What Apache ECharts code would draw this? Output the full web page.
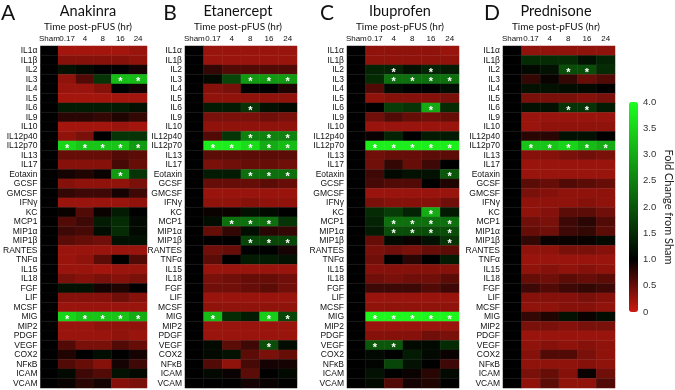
<!DOCTYPE html>
<html>
<head>
<meta charset="utf-8">
<script src="https://cdn.jsdelivr.net/npm/echarts@6/dist/echarts.min.js"></script>
</head>
<body style="margin:0;background:#fff">
<div id="chart" style="width:675px;height:390px"></div>
<script>
// row labels (cytokines) and column labels (time post-pFUS, hr)
const cytokines = ['IL1α', 'IL1β', 'IL2', 'IL3', 'IL4', 'IL5', 'IL6', 'IL9', 'IL10', 'IL12p40', 'IL12p70',
  'IL13', 'IL17', 'Eotaxin', 'GCSF', 'GMCSF', 'IFNγ', 'KC', 'MCP1', 'MIP1α', 'MIP1β', 'RANTES', 'TNFα',
  'IL15', 'IL18', 'FGF', 'LIF', 'MCSF', 'MIG', 'MIP2', 'PDGF', 'VEGF', 'COX2', 'NFκB', 'ICAM', 'VCAM'];
const times = ['Sham', '0.17', '4', '8', '16', '24'];
const drugs = ['Anakinra', 'Etanercept', 'Ibuprofen', 'Prednisone'];
const letters = ['A', 'B', 'C', 'D'];
const shamValue = 1;
const scaleTicks = [0, 0.5, 1.0, 1.5, 2.0, 2.5, 3.0, 3.5, 4.0];

// fold change vs sham, one row per cytokine, columns 0.17 / 4 / 8 / 16 / 24 hr
const anakinra = [
  [0.2, 0.2, 0.2, 0.2, 0.25], [0.35, 0.35, 0.35, 0.35, 0.3], [1.2, 1.1, 1.0, 1.0, 0.9],
  [0.3, 0.6, 1.6, 3.2, 3.2], [0.25, 0.25, 0.35, 1.0, 0.9], [0.2, 0.2, 0.2, 0.2, 0.2],
  [1.3, 1.3, 1.3, 1.3, 1.2], [0.8, 0.8, 0.75, 0.85, 0.75], [0.2, 0.2, 0.2, 0.25, 0.2],
  [0.3, 0.4, 1.0, 1.6, 1.6], [3.5, 3.3, 3.3, 3.3, 2.8], [0.5, 0.5, 0.5, 0.6, 0.55],
  [0.35, 0.35, 0.35, 0.65, 0.5], [0.9, 0.85, 0.95, 2.8, 1.6], [0.35, 0.3, 0.3, 0.3, 0.4],
  [0.75, 0.7, 0.7, 0.9, 0.7], [0.25, 0.25, 0.25, 0.25, 0.3], [0.95, 0.6, 0.95, 1.3, 1.0],
  [0.6, 0.7, 1.3, 1.5, 1.1], [0.7, 0.65, 1.15, 1.5, 1.1], [0.55, 0.5, 0.45, 1.2, 1.2],
  [0.25, 0.25, 0.25, 0.25, 0.25], [0.25, 0.3, 0.55, 1.0, 0.6], [0.25, 0.25, 0.2, 0.25, 0.25],
  [0.4, 0.35, 0.4, 0.35, 0.4], [1.2, 1.2, 0.9, 0.85, 1.0], [0.35, 0.35, 0.35, 0.45, 0.35],
  [0.25, 0.25, 0.25, 0.25, 0.25], [3.5, 3.3, 3.3, 3.3, 3.0], [0.25, 0.25, 0.3, 0.3, 0.3],
  [0.25, 0.25, 0.25, 0.3, 0.25], [0.6, 0.4, 0.4, 0.6, 0.5], [0.85, 1.0, 1.15, 1.0, 0.9],
  [0.6, 0.5, 0.35, 0.9, 0.7], [1.1, 0.7, 0.6, 1.2, 1.1], [0.95, 0.8, 0.9, 0.35, 0.4]
];
const etanercept = [
  [0.25, 0.25, 0.25, 0.25, 0.25], [0.25, 0.25, 0.25, 0.25, 0.25], [0.75, 0.6, 0.6, 0.6, 0.6],
  [1.1, 1.8, 2.8, 2.8, 2.8], [0.35, 0.4, 1.0, 1.0, 0.85], [0.3, 0.3, 0.3, 0.3, 0.3],
  [1.3, 1.3, 1.6, 1.2, 1.1], [0.4, 0.4, 0.4, 0.45, 0.4], [0.3, 0.3, 0.3, 0.3, 0.3],
  [0.6, 1.6, 2.5, 2.5, 2.5], [3.8, 3.8, 3.6, 3.0, 3.2], [0.55, 0.55, 0.55, 0.55, 0.55],
  [0.4, 0.45, 0.5, 0.5, 0.45], [1.3, 1.3, 2.3, 2.3, 2.3], [0.5, 0.5, 0.5, 0.55, 0.5],
  [0.25, 0.25, 0.25, 0.25, 0.25], [0.3, 0.3, 0.35, 0.3, 0.3], [0.95, 0.95, 1.2, 1.1, 1.0],
  [1.15, 2.3, 2.3, 2.3, 1.6], [0.5, 0.75, 1.15, 0.8, 0.75], [1.0, 1.0, 1.8, 1.8, 1.8],
  [0.45, 0.5, 1.0, 1.0, 0.9], [0.55, 1.0, 1.3, 1.3, 1.2], [0.25, 0.25, 0.25, 0.25, 0.25],
  [0.4, 0.45, 0.5, 0.5, 0.45], [0.45, 0.45, 0.5, 0.55, 0.45], [0.25, 0.25, 0.25, 0.25, 0.25],
  [0.3, 0.3, 0.3, 0.3, 0.3], [3.2, 1.5, 1.3, 3.4, 1.8], [0.25, 0.25, 0.25, 0.25, 0.25],
  [0.25, 0.25, 0.25, 0.25, 0.25], [1.1, 0.55, 0.7, 1.9, 1.15], [1.1, 1.2, 0.55, 0.4, 0.5],
  [0.6, 0.3, 0.65, 0.9, 0.9], [1.1, 0.95, 0.55, 1.0, 1.1], [1.0, 1.0, 0.9, 0.95, 1.0]
];
const ibuprofen = [
  [0.3, 0.3, 0.3, 0.3, 0.25], [0.3, 0.3, 0.3, 0.3, 0.3], [1.4, 1.4, 1.2, 1.4, 1.3],
  [1.5, 2.3, 2.3, 2.3, 2.3], [0.6, 1.1, 1.0, 1.0, 1.15], [0.3, 0.35, 0.35, 0.35, 0.4],
  [1.0, 1.7, 1.6, 3.0, 1.5], [0.45, 0.6, 0.5, 0.45, 0.5], [0.25, 0.25, 0.25, 0.25, 0.25],
  [0.95, 1.4, 1.0, 1.3, 1.3], [3.8, 3.8, 3.8, 3.8, 3.8], [0.45, 0.5, 0.5, 0.55, 0.55],
  [0.45, 0.75, 0.5, 0.7, 1.0], [0.7, 1.1, 1.2, 1.2, 2.0], [0.65, 0.6, 0.6, 1.0, 0.85],
  [0.25, 0.25, 0.25, 0.25, 0.25], [0.4, 0.35, 0.35, 0.35, 0.45], [1.5, 1.7, 1.4, 3.0, 1.3],
  [1.4, 2.3, 2.3, 2.3, 2.3], [1.3, 1.9, 1.9, 1.9, 1.9], [0.5, 1.1, 0.95, 1.2, 1.6],
  [0.4, 0.45, 0.4, 0.5, 0.55], [0.45, 1.0, 0.8, 1.0, 1.3], [0.35, 0.35, 0.35, 0.35, 0.35],
  [0.45, 0.4, 0.45, 0.45, 0.55], [0.7, 0.7, 0.7, 0.6, 0.7], [0.25, 0.25, 0.25, 0.25, 0.25],
  [0.3, 0.3, 0.3, 0.3, 0.3], [3.9, 3.9, 3.9, 3.9, 3.9], [0.25, 0.25, 0.25, 0.25, 0.25],
  [0.35, 0.35, 0.35, 0.45, 0.4], [2.0, 2.0, 1.1, 1.1, 1.5], [1.1, 1.0, 1.3, 1.1, 0.95],
  [1.05, 1.8, 1.2, 1.0, 0.7], [1.2, 1.0, 0.95, 0.8, 1.1], [1.1, 0.6, 0.9, 0.85, 1.0]
];
const prednisone = [
  [0.3, 0.3, 0.3, 0.3, 0.3], [1.5, 1.5, 1.5, 1.2, 1.4], [1.1, 1.2, 1.9, 1.9, 1.5],
  [0.75, 0.95, 0.75, 0.5, 0.6], [1.2, 1.2, 1.15, 1.1, 1.0], [0.4, 0.4, 0.4, 0.35, 0.4],
  [1.2, 1.2, 1.6, 1.6, 1.3], [0.25, 0.25, 0.25, 0.25, 0.25], [0.25, 0.3, 0.3, 0.3, 0.3],
  [0.8, 0.8, 1.2, 1.2, 1.0], [3.3, 3.3, 3.5, 3.2, 3.0], [0.35, 0.35, 0.4, 0.45, 0.4],
  [0.25, 0.25, 0.25, 0.25, 0.25], [0.25, 0.25, 0.25, 0.25, 0.25], [0.55, 0.5, 0.6, 0.55, 0.5],
  [0.4, 0.35, 0.3, 0.3, 0.3], [0.3, 0.3, 0.3, 0.35, 0.3], [0.3, 0.35, 0.55, 0.55, 0.45],
  [0.45, 0.4, 0.7, 0.8, 0.6], [0.5, 0.45, 0.7, 0.75, 0.55], [0.75, 0.95, 0.95, 0.95, 1.1],
  [0.3, 0.3, 0.4, 0.4, 0.35], [0.25, 0.25, 0.25, 0.25, 0.25], [0.3, 0.35, 0.3, 0.35, 0.3],
  [0.5, 0.45, 0.55, 0.5, 0.55], [0.7, 0.6, 0.7, 0.75, 0.7], [0.35, 0.35, 0.35, 0.4, 0.35],
  [0.3, 0.3, 0.35, 0.35, 0.3], [0.75, 0.85, 1.2, 0.95, 1.15], [0.4, 0.4, 0.35, 0.4, 0.4],
  [0.25, 0.25, 0.25, 0.25, 0.25], [0.3, 0.35, 0.3, 0.35, 0.3], [0.35, 0.6, 0.6, 0.4, 0.3],
  [0.3, 0.3, 0.3, 0.35, 0.3], [0.4, 0.5, 0.35, 0.95, 0.45], [0.3, 0.55, 0.3, 0.3, 0.6]
];

// significant cells marked with a star: [row, time column]
const anakinraStars = [[3, 3], [3, 4], [10, 0], [10, 1], [10, 2], [10, 3], [10, 4], [13, 3],
  [28, 0], [28, 1], [28, 2], [28, 3], [28, 4]];
const etanerceptStars = [[3, 2], [3, 3], [3, 4], [6, 2], [9, 2], [9, 3], [9, 4], [10, 0], [10, 1], [10, 2],
  [10, 3], [10, 4], [13, 2], [13, 3], [13, 4], [18, 1], [18, 2], [18, 3], [20, 2], [20, 3], [20, 4],
  [28, 0], [28, 3], [28, 4], [31, 3]];
const ibuprofenStars = [[2, 1], [2, 3], [3, 1], [3, 2], [3, 3], [3, 4], [6, 3], [10, 0], [10, 1], [10, 2],
  [10, 3], [10, 4], [13, 4], [17, 3], [18, 1], [18, 2], [18, 3], [18, 4], [19, 1], [19, 2], [19, 3], [19, 4],
  [20, 4], [28, 0], [28, 1], [28, 2], [28, 3], [28, 4], [31, 0], [31, 1]];
const prednisoneStars = [[2, 2], [2, 3], [6, 2], [6, 3], [10, 0], [10, 1], [10, 2], [10, 3], [10, 4]];

const panels = [anakinra, etanercept, ibuprofen, prednisone];
const panelStars = [anakinraStars, etanerceptStars, ibuprofenStars, prednisoneStars];

// layout
const panelLeft = [35, 185, 347, 503];
const gridTop = 46, gridW = 112, gridH = 342;
const letterX = [8, 170, 327, 492];
const labelFont = 'Liberation Sans, Arial, sans-serif';
const titleFont = 'Lato, Open Sans, sans-serif';

const chart = echarts.init(document.getElementById('chart'));

const grids = [], xAxes = [], yAxes = [], series = [], graphics = [];
panels.forEach((rows, p) => {
  grids.push({left: panelLeft[p], top: gridTop, width: gridW, height: gridH});
  xAxes.push({
    type: 'category', gridIndex: p, position: 'top', data: times,
    axisLine: {show: false}, axisTick: {show: false}, splitLine: {show: false},
    axisLabel: {fontSize: 8, color: '#111', margin: 3, fontFamily: labelFont, interval: 0}
  });
  yAxes.push({
    type: 'category', gridIndex: p, inverse: true, data: cytokines,
    axisLine: {show: false}, axisTick: {show: false}, splitLine: {show: false},
    axisLabel: {fontSize: 8.5, color: '#111', margin: 3, fontFamily: labelFont, interval: 0}
  });
  const starSet = new Set(panelStars[p].map(s => s[0] + ':' + s[1]));
  const data = [];
  rows.forEach((vals, r) => {
    data.push([0, r, shamValue, 0]);
    vals.forEach((v, c) => data.push([c + 1, r, v, starSet.has(r + ':' + c) ? 1 : 0]));
  });
  series.push({
    type: 'heatmap', xAxisIndex: p, yAxisIndex: p, data: data,
    encode: {x: 0, y: 1, value: 2},
    itemStyle: {borderColor: 'rgba(255,255,255,0.07)', borderWidth: 0.5},
    label: {
      show: true, color: '#fff', fontSize: 11, fontWeight: 'bold', offset: [0, 3],
      formatter: prm => prm.data[3] ? '*' : ''
    },
    emphasis: {disabled: true}
  });
  const cx = panelLeft[p] + gridW / 2 - 3;
  graphics.push(
    {type: 'text', x: letterX[p], y: 13, style: {text: letters[p], font: '21px ' + titleFont,
      fill: '#111', align: 'center', verticalAlign: 'middle', textAlign: 'center', textVerticalAlign: 'middle'}},
    {type: 'text', x: cx, y: 11, style: {text: drugs[p], font: '14.5px ' + titleFont,
      fill: '#111', align: 'center', verticalAlign: 'middle', textAlign: 'center', textVerticalAlign: 'middle'}},
    {type: 'text', x: cx, y: 27, style: {text: 'Time post-pFUS (hr)', font: '10px ' + titleFont,
      fill: '#111', align: 'center', verticalAlign: 'middle', textAlign: 'center', textVerticalAlign: 'middle'}}
  );
});

// axis beside the colour bar
grids.push({left: 629, top: 102, width: 9, height: 210});
xAxes.push({type: 'value', gridIndex: 4, show: false});
yAxes.push({
  type: 'value', gridIndex: 4, position: 'right', min: 0, max: 4, interval: 0.5,
  axisLine: {show: false}, axisTick: {show: false}, splitLine: {show: false},
  axisLabel: {fontSize: 9.5, color: '#333', margin: 6, fontFamily: labelFont,
    formatter: v => scaleTicks.indexOf(v) === 0 ? '0' : v.toFixed(1)},
  name: 'Fold Change from Sham', nameLocation: 'middle', nameRotate: -90, nameGap: 26,
  nameTextStyle: {fontSize: 11, color: '#222', fontFamily: titleFont}
});

chart.setOption({
  animation: false,
  grid: grids,
  xAxis: xAxes,
  yAxis: yAxes,
  visualMap: {
    type: 'continuous', min: 0, max: 4, seriesIndex: [0, 1, 2, 3], dimension: 2,
    left: 624, top: 97, padding: 5, itemWidth: 9, itemHeight: 210,
    calculable: false, hoverLink: false, text: null, showLabel: false,
    inRange: {color: ['#cc1a10', '#000000', '#0a560a', '#14ab14', '#1eff1e']}
  },
  graphic: graphics,
  series: series
});
</script>
</body>
</html>
